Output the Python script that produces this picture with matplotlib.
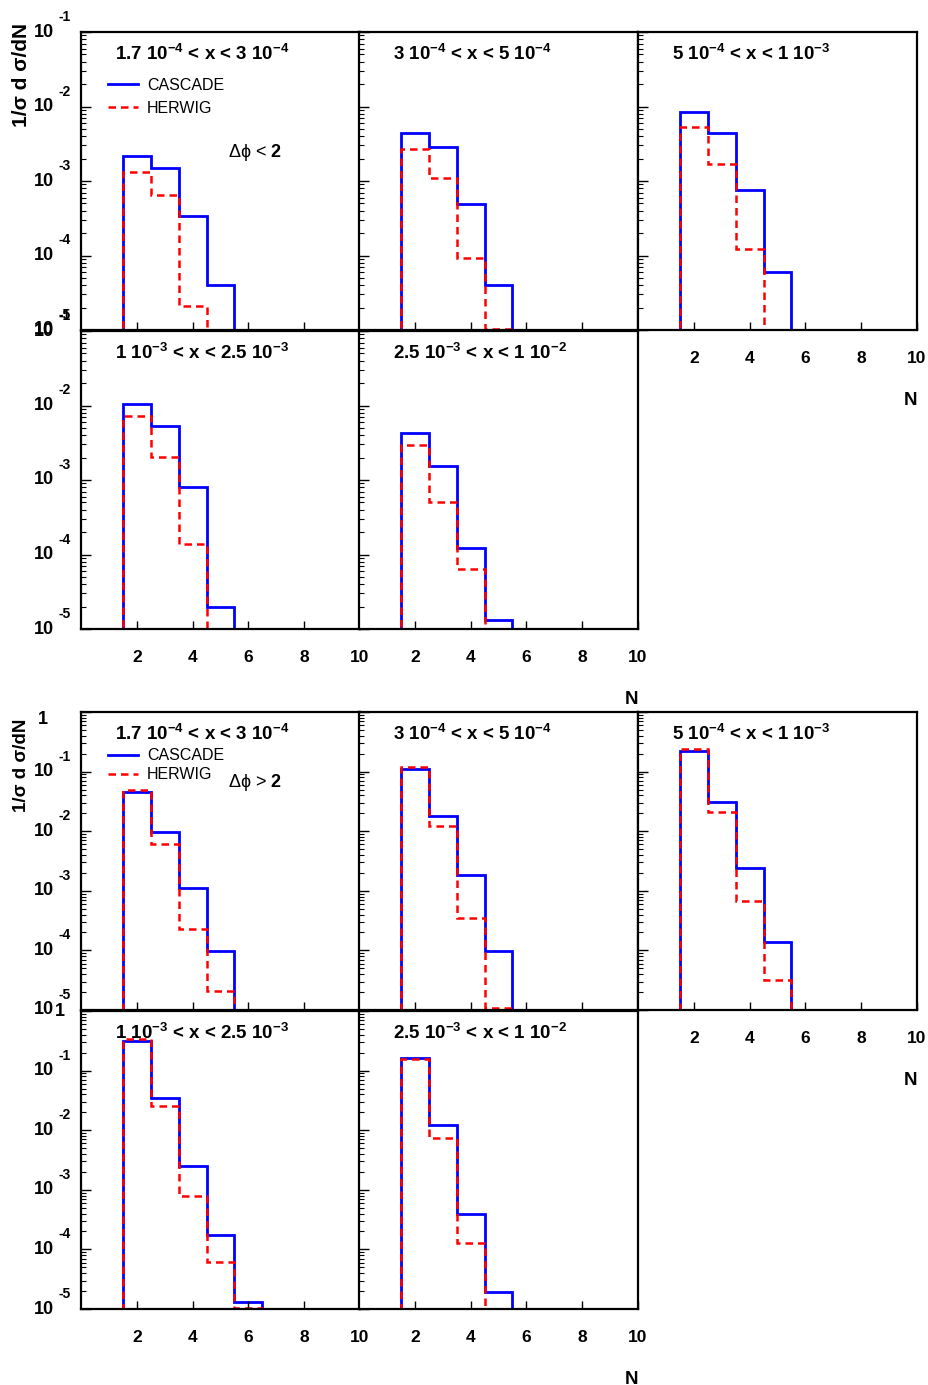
import matplotlib

matplotlib.use("Agg")
import matplotlib.pyplot as plt
import numpy as np
from matplotlib.lines import Line2D

plt.rcParams["font.family"] = ["Liberation Sans", "DejaVu Sans"]
plt.rcParams["mathtext.fontset"] = "custom"
plt.rcParams["mathtext.rm"] = "Liberation Sans"
plt.rcParams["mathtext.bf"] = "Liberation Sans:bold"
plt.rcParams["mathtext.default"] = "bf"
plt.rcParams["axes.unicode_minus"] = False

W, H = 929, 1385
PX = 0.72  # points per pixel at dpi 100

# x bins (N = 2, 3, 4, ...), one list per panel
x_bins = [
    "1.7 10$^{-4}$ < x < 3 10$^{-4}$",
    "3 10$^{-4}$ < x < 5 10$^{-4}$",
    "5 10$^{-4}$ < x < 1 10$^{-3}$",
    "1 10$^{-3}$ < x < 2.5 10$^{-3}$",
    "2.5 10$^{-3}$ < x < 1 10$^{-2}$",
]

# delta phi < 2
cascade_lo = [
    [2.17e-3, 1.48e-3, 3.42e-4, 3.98e-5],
    [4.46e-3, 2.86e-3, 4.9e-4, 3.98e-5],
    [8.43e-3, 4.4e-3, 7.63e-4, 5.94e-5],
    [1.04e-2, 5.26e-3, 7.98e-4, 1.95e-5],
    [4.24e-3, 1.53e-3, 1.23e-4, 1.31e-5],
]
herwig_lo = [
    [1.31e-3, 6.5e-4, 2.1e-5],
    [2.72e-3, 1.11e-3, 9.25e-5, 1.03e-5],
    [5.3e-3, 1.67e-3, 1.23e-4],
    [7.3e-3, 2.01e-3, 1.38e-4],
    [2.98e-3, 5.07e-4, 6.32e-5],
]

# delta phi > 2
cascade_hi = [
    [4.6e-2, 9.7e-3, 1.1e-3, 9.9e-5],
    [0.109, 1.82e-2, 1.86e-3, 9.9e-5],
    [0.222, 3.05e-2, 2.38e-3, 1.38e-4],
    [0.31, 3.43e-2, 2.48e-3, 1.75e-4, 1.31e-5],
    [0.165, 1.22e-2, 3.88e-4, 1.95e-5],
]
herwig_hi = [
    [4.85e-2, 6.0e-3, 2.29e-4, 2.1e-5],
    [0.118, 1.21e-2, 3.45e-4, 1.07e-5],
    [0.242, 2.1e-2, 6.66e-4, 3.15e-5],
    [0.335, 2.58e-2, 7.87e-4, 6.22e-5, 1.05e-5],
    [0.157, 7.5e-3, 1.26e-4],
]

x_ticks = [2, 4, 6, 8, 10]

COL_LEFT = [81, 359, 638]
PANEL_W = 279
PANEL_H = 298
# (row, col) slots used by the five panels of one block
SLOTS = [(0, 0), (0, 1), (0, 2), (1, 0), (1, 1)]
# panels that carry x tick labels (nothing below them)
X_LABELLED = {2, 3, 4}


def _stairs(ax, vals, **kw):
    edges = np.arange(len(vals) + 1) + 1.5
    ax.stairs(vals, edges, baseline=1e-9, **kw)


def _ylabels(ax, decades, row):
    for d in decades:
        val = 10.0 ** d
        if d == 0:
            # top "1": tucked left in the upper row, right after "10" below
            if row == 0:
                xy_off, ha = (-33 * PX, -7 * PX), "right"
            else:
                xy_off, ha = (-26 * PX, 0), "left"
            ax.annotate("1", xy=(0, val), xycoords=("axes fraction", "data"),
                        xytext=xy_off, textcoords="offset points",
                        ha=ha, va="center", fontsize=13, fontweight="bold",
                        annotation_clip=False)
            continue
        ax.annotate("10", xy=(0, val), xycoords=("axes fraction", "data"),
                    xytext=(-27 * PX, 0), textcoords="offset points",
                    ha="right", va="center", fontsize=13, fontweight="bold",
                    annotation_clip=False)
        ax.annotate(f"-{-d}", xy=(0, val), xycoords=("axes fraction", "data"),
                    xytext=(-22 * PX, 15 * PX), textcoords="offset points",
                    ha="left", va="center", fontsize=10, fontweight="bold",
                    annotation_clip=False)


def draw_block(fig, top_px, ymin_exp, ymax_exp, cascade, herwig, dphi_text,
               leg_y, leg_space, dphi_y, ylab_y, ylab_size):
    for i, (row, col) in enumerate(SLOTS):
        y_top = top_px + row * (PANEL_H + 1)
        ax = fig.add_axes([
            COL_LEFT[col] / W,
            1 - (y_top + PANEL_H) / H,
            PANEL_W / W,
            PANEL_H / H,
        ])
        ax.set_yscale("log")
        ax.set_xlim(0, 10)
        ax.set_ylim(10.0 ** ymin_exp, 10.0 ** ymax_exp)

        _stairs(ax, cascade[i], color="#0000ff", lw=2.0)
        _stairs(ax, herwig[i], color="#ff0000", lw=1.8, ls=(0, (3, 2)))

        for s in ax.spines.values():
            s.set_linewidth(1.6)
        ax.set_xticks(x_ticks)
        ax.tick_params(axis="x", direction="in", length=8 * PX, width=1,
                       top=False, labelbottom=i in X_LABELLED, pad=15,
                       labelsize=12.5)
        for lab in ax.get_xticklabels():
            lab.set_fontweight("bold")
        ax.tick_params(axis="y", which="major", direction="in", length=10 * PX,
                       width=1, right=False, labelleft=False)
        ax.tick_params(axis="y", which="minor", direction="in", length=5 * PX,
                       width=0.8, right=False, labelleft=False)

        if col == 0:
            _ylabels(ax, range(ymax_exp, ymin_exp - 1, -1), row)

        ax.text(0.122, 1 - 28 / PANEL_H, x_bins[i], transform=ax.transAxes,
                ha="left", va="baseline", fontsize=13.5, fontweight="bold")

        if i in (2, 4):
            ax.text(1.0, -0.235, "N", transform=ax.transAxes, ha="right",
                    va="center", fontsize=13.5, fontweight="bold")

        if i == 0:
            handles = [
                Line2D([], [], color="#0000ff", lw=2.0),
                Line2D([], [], color="#ff0000", lw=1.8, ls=(0, (3, 2))),
            ]
            ax.legend(handles, ["CASCADE", "HERWIG"], loc="upper left",
                      bbox_to_anchor=(0.074, leg_y), frameon=False,
                      fontsize=11.5, handlelength=1.9, handletextpad=0.55,
                      labelspacing=leg_space, borderaxespad=0)
            ax.text(0.528, dphi_y, dphi_text, transform=ax.transAxes,
                    ha="left", va="center", fontsize=13)

    fig.text(22 / W, 1 - ylab_y / H, "1/σ d σ/dN", rotation=90, ha="center",
             va="center", fontsize=ylab_size, fontweight="bold")


fig = plt.figure(figsize=(W / 100, H / 100), dpi=100)
draw_block(fig, 32, -5, -1, cascade_lo, herwig_lo,
           r"$\mathrm{\Delta\phi}$ < $\mathbf{2}$", 0.867, 0.5, 0.597, 75, 15)
draw_block(fig, 712, -5, 0, cascade_hi, herwig_hi,
           r"$\mathrm{\Delta\phi}$ > $\mathbf{2}$", 0.9, 0.25, 0.762, 765, 13.5)

fig.savefig("out.png", dpi=100)
